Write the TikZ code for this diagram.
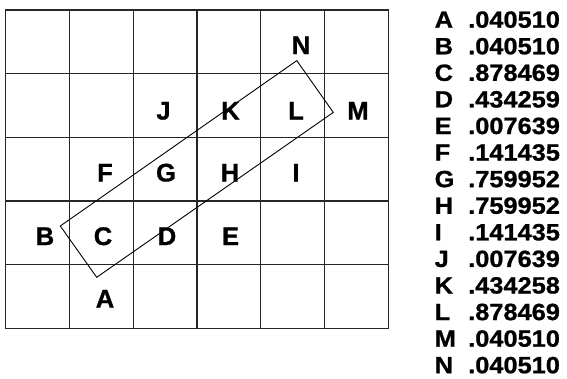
\documentclass[tikz,border=0pt]{standalone}
\usepackage{fontspec}
\setmainfont{Liberation Sans}
\newfontfamily\cellfont{Liberation Sans}[FakeBold=1]
\newfontfamily\listfont{Liberation Sans}[FakeStretch=1.08,FakeBold=0.9]
\begin{document}
\begin{tikzpicture}[x=1pt,y=-1pt,
  gridline/.style={line width=1.2pt,black!85},
  box/.style={line width=0.9pt,black,line join=miter},
  cell/.style={anchor=base,inner sep=0pt,font=\cellfont\fontsize{25.5}{25.5}\selectfont\bfseries},
  lkey/.style={anchor=base west,inner sep=0pt,font=\listfont\fontsize{23.5}{23.5}\selectfont\bfseries},
  lval/.style={anchor=base west,inner sep=0pt,font=\listfont\fontsize{23.5}{23.5}\selectfont\bfseries}]
\useasboundingbox (0,0) rectangle (567,378);
% grid
\foreach \i in {0,...,6} {
  \draw[gridline] ({5.7+63.77*\i},10) -- ({5.7+63.77*\i},328.4);
}
\foreach \j in {0,...,5} {
  \draw[gridline] (5.1,{10+63.68*\j}) -- (388.9,{10+63.68*\j});
}
% rotated rectangle
\coordinate (r1) at (60.3,226);
\coordinate (r2) at (96.7,277.3);
\coordinate (r3) at (333.3,112.4);
\coordinate (r4) at (296.8,60.6);
\draw[box] (r1) -- (r2) -- (r3) -- (r4) -- cycle;
% grid letters
\node[cell] (N) at (301,54) {N};
\node[cell] (J) at (163.5,119.5) {J};
\node[cell] (K) at (230.5,119.5) {K};
\node[cell] (L) at (296,119.5) {L};
\node[cell] (M) at (358,119.5) {M};
\node[cell] (F) at (105,181.5) {F};
\node[cell] (G) at (166,181.5) {G};
\node[cell] (H) at (230,181.5) {H};
\node[cell] (I) at (296,181.5) {I};
\node[cell] (B) at (45,245) {B};
\node[cell] (C) at (103,245) {C};
\node[cell] (D) at (167,245) {D};
\node[cell] (E) at (230.5,245) {E};
\node[cell] (A) at (105,307.5) {A};
% list
\foreach \k/\v [count=\n from 0] in {A/.040510,B/.040510,C/.878469,D/.434259,E/.007639,F/.141435,G/.759952,H/.759952,I/.141435,J/.007639,K/.434258,L/.878469,M/.040510,N/.040510} {
  \node[lkey] (k\k) at (434.5,{27.7+26.58*\n}) {\k};
  \node[lval] (v\k) at (468,{27.7+26.58*\n}) {\v};
}
\end{tikzpicture}
\end{document}
